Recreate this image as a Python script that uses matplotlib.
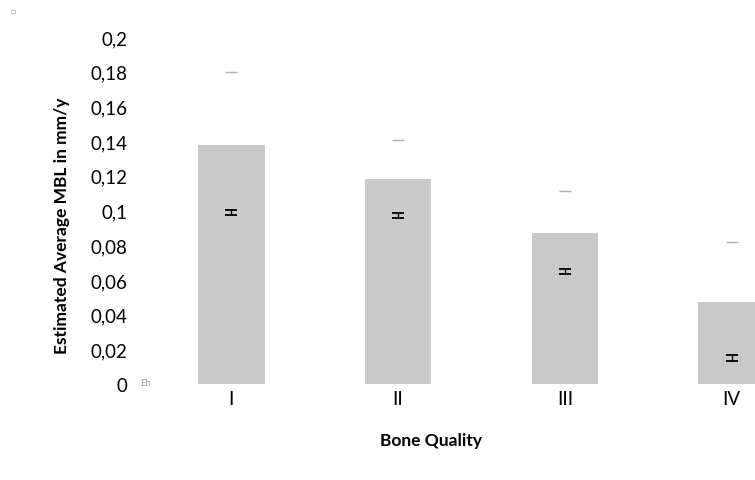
import numpy as np
import matplotlib.pyplot as plt

plt.rcParams['font.family'] = ['Lato', 'DejaVu Sans']

# data
categories = ['I', 'II', 'III', 'IV']
bar_values = [0.138, 0.118, 0.087, 0.047]
point_values = [0.099, 0.097, 0.065, 0.015]
point_err = [0.0015, 0.0015, 0.0015, 0.0015]
upper_marks = [0.180, 0.1405, 0.111, 0.082]
y_ticks = [0, 0.02, 0.04, 0.06, 0.08, 0.1, 0.12, 0.14, 0.16, 0.18, 0.2]
y_tick_labels = ['0', '0,02', '0,04', '0,06', '0,08', '0,1', '0,12', '0,14', '0,16', '0,18', '0,2']

fig = plt.figure(figsize=(7.55, 4.81), dpi=100)
# axes continue past the right edge like in the original (last bar cut off)
ax = fig.add_axes([148 / 755, (481 - 385) / 481, 667 / 755, 347 / 481])

x = np.arange(len(categories))
ax.bar(x, bar_values, width=0.4, color='#c9c9c9', zorder=1)
ax.errorbar(x, point_values, yerr=point_err, fmt='none', ecolor='black',
            elinewidth=1.0, capsize=4.5, capthick=1.3, zorder=3)
ax.scatter(x, upper_marks, marker='_', s=80, color='#b0b0b0', linewidths=1, zorder=2)

ax.set_xlim(-0.5, 3.5)
ax.set_ylim(0, 0.2)
ax.set_yticks(y_ticks)
ax.set_yticklabels(y_tick_labels)
ax.set_xticks(x)
ax.set_xticklabels(categories)
ax.tick_params(axis='both', length=0, labelsize=13.5)
ax.tick_params(axis='y', pad=15)
ax.tick_params(axis='x', pad=4)
for s in ax.spines.values():
    s.set_visible(False)

ax.set_ylabel('Estimated Average MBL in mm/y', fontsize=12.5, fontweight='bold')
ax.yaxis.set_label_coords(-0.117, 0.458)
fig.text(431 / 755, 1 - 441 / 481, 'Bone Quality', ha='center', va='center',
         fontsize=12.5, fontweight='bold')

# small leftovers visible in the original image
fig.text(13 / 755, 1 - 12 / 481, '\u25a1', ha='center', va='center', fontsize=6, color='#999999')
fig.text(146 / 755, 1 - 384 / 481, 'Eh', ha='center', va='center', fontsize=7, color='#999999')

fig.savefig('out.png', dpi=100)
